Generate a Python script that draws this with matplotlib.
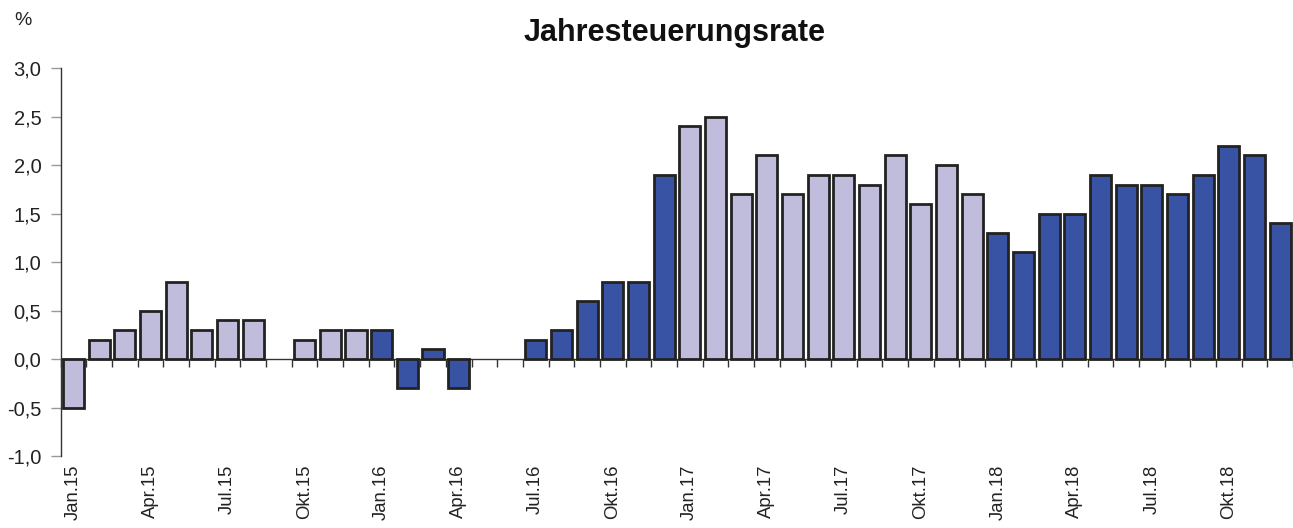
import matplotlib.pyplot as plt
import numpy as np

plt.rcParams['font.family'] = ['Liberation Sans', 'DejaVu Sans']

months = ['Jan', 'Feb', 'Mär', 'Apr', 'Mai', 'Jun', 'Jul', 'Aug', 'Sep', 'Okt', 'Nov', 'Dez']
years = ['15', '16', '17', '18']
labels = [m + '.' + y for y in years for m in months]

rate = [-0.5, 0.2, 0.3, 0.5, 0.8, 0.3, 0.4, 0.4, 0.0, 0.2, 0.3, 0.3,
        0.3, -0.3, 0.1, -0.3, 0.0, 0.0, 0.2, 0.3, 0.6, 0.8, 0.8, 1.9,
        2.4, 2.5, 1.7, 2.1, 1.7, 1.9, 1.9, 1.8, 2.1, 1.6, 2.0, 1.7,
        1.3, 1.1, 1.5, 1.5, 1.9, 1.8, 1.8, 1.7, 1.9, 2.2, 2.1, 1.4]
# 0 = hell, 1 = dunkel
dark = [0] * 12 + [1] * 12 + [0] * 12 + [1] * 12

light_col = '#c0bcdc'
dark_col = '#3953a4'

x = np.arange(len(rate))
colors = [dark_col if d else light_col for d in dark]
shown = [v if v != 0 else np.nan for v in rate]

fig = plt.figure(figsize=(12.93, 5.28), dpi=100)
ax = fig.add_axes([0.047, 0.136, 0.953, 0.735])

ax.bar(x, shown, width=0.82, color=colors, edgecolor='#222222', linewidth=2, zorder=3)

ax.set_xlim(-0.5, len(rate) - 0.5)
ax.set_ylim(-1.0, 3.0)
yt = np.arange(-1.0, 3.01, 0.5)
ax.set_yticks(yt)
ax.set_yticklabels([f'{v:.1f}'.replace('.', ',') for v in yt])
ax.tick_params(axis='y', direction='out', length=7, width=1, color='#999999',
               labelsize=14.5, labelcolor='#222222', pad=7)

tick_pos = x[::3]
ax.set_xticks(tick_pos)
ax.set_xticklabels([labels[i] for i in tick_pos], rotation=90, va='top')
ax.tick_params(axis='x', length=0, labelsize=13.3, labelcolor='#222222', pad=6)

for s in ['top', 'right', 'bottom']:
    ax.spines[s].set_visible(False)
ax.spines['left'].set_color('#333333')
ax.spines['left'].set_linewidth(1)

# Nulllinie mit Teilstrichen zwischen den Monaten
zero_frac = (0 - (-1.0)) / (3.0 - (-1.0))
sec = ax.secondary_xaxis(zero_frac)
sec.set_xticks(np.arange(-0.5, len(rate), 1.0))
sec.set_xticklabels([])
sec.tick_params(direction='out', length=6, width=1, color='#333333')
sec.spines['bottom'].set_color('#333333')
sec.spines['bottom'].set_linewidth(1)
sec.spines['bottom'].set_zorder(4)

fig.text(0.522, 0.937, 'Jahresteuerungsrate', ha='center', va='center',
         fontsize=22, fontweight='bold', color='#111111')
fig.text(0.011, 0.962, '%', ha='left', va='center', fontsize=14, color='#222222')

fig.savefig('out.png', dpi=100)
